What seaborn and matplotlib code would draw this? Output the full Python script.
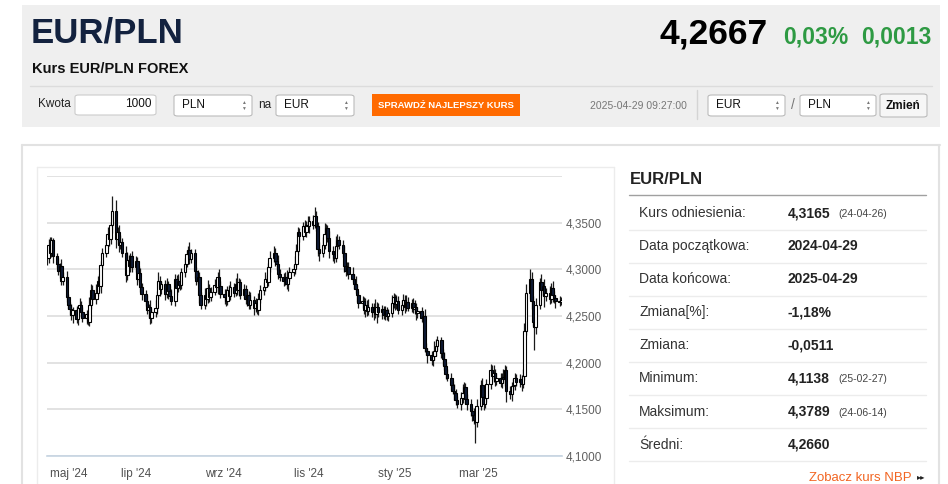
import numpy as np
import pandas as pd
import matplotlib
matplotlib.use("Agg")
import matplotlib.pyplot as plt
import matplotlib.dates as mdates
from matplotlib.patches import Rectangle, FancyBboxPatch
import seaborn as sns

# ---- data (daily EUR/PLN closes, one row per week) ----
ref_close = 4.3165
closes = [
    4.312, 4.326, 4.318, 4.331, 4.314,  4.306, 4.298, 4.304, 4.288, 4.292,
    4.270, 4.262, 4.258, 4.251, 4.256,  4.247, 4.259, 4.262, 4.254, 4.248,
    4.252, 4.244, 4.262, 4.278, 4.268,  4.275, 4.288, 4.282, 4.305, 4.318,
    4.326, 4.338, 4.332, 4.347, 4.362,  4.332, 4.340, 4.326, 4.329, 4.318,
    4.294, 4.310, 4.304, 4.314, 4.302,  4.309, 4.290, 4.296, 4.281, 4.274,
    4.266, 4.256, 4.260, 4.248, 4.254,  4.259, 4.272, 4.288, 4.279, 4.284,
    4.274, 4.284, 4.277, 4.271, 4.266,  4.290, 4.280, 4.288, 4.283, 4.297,
    4.306, 4.316, 4.321, 4.311, 4.317,  4.298, 4.288, 4.292, 4.272, 4.262,
    4.272, 4.268, 4.280, 4.270, 4.276,  4.283, 4.281, 4.292, 4.282, 4.274,
    4.270, 4.266, 4.278, 4.271, 4.281,  4.275, 4.284, 4.278, 4.286, 4.273,
    4.279, 4.268, 4.272, 4.262, 4.267,  4.259, 4.264, 4.256, 4.268, 4.278,
    4.281, 4.290, 4.286, 4.302, 4.312,  4.318, 4.309, 4.306, 4.295, 4.292,
    4.287, 4.292, 4.284, 4.291, 4.297,  4.300, 4.306, 4.320, 4.340, 4.336,
    4.346, 4.340, 4.348, 4.346, 4.352,  4.348, 4.357, 4.346, 4.322, 4.318,
    4.326, 4.338, 4.344, 4.334, 4.320,  4.316, 4.312, 4.325, 4.331, 4.326,
    4.318, 4.304, 4.298, 4.303, 4.295,  4.290, 4.284, 4.279, 4.272, 4.264,
    4.266, 4.256, 4.262, 4.255, 4.260,  4.254, 4.259, 4.252, 4.260, 4.254,
    4.257, 4.251, 4.256, 4.250, 4.253,  4.264, 4.270, 4.263, 4.266, 4.256,
    4.262, 4.267, 4.260, 4.265, 4.259,  4.264, 4.257, 4.260, 4.253, 4.255,
    4.248, 4.250, 4.216, 4.212, 4.208,  4.203, 4.207, 4.212, 4.218, 4.224,
    4.210, 4.204, 4.196, 4.188, 4.184,  4.176, 4.170, 4.167, 4.160, 4.156,
    4.162, 4.168, 4.174, 4.161, 4.156,  4.148, 4.144, 4.139, 4.136, 4.154,
    4.176, 4.163, 4.156, 4.162, 4.177,  4.192, 4.186, 4.189, 4.180, 4.184,
    4.178, 4.185, 4.182, 4.192, 4.170,  4.166, 4.175, 4.176, 4.184, 4.179,
    4.183, 4.177, 4.186, 4.234, 4.275,  4.290, 4.266, 4.244, 4.238, 4.262,
    4.286, 4.278, 4.282, 4.271, 4.275,  4.268, 4.280, 4.272, 4.269, 4.266,
    4.2654, 4.2667,
]
# upper / lower shadow length beyond the body, in 0.001 PLN
wick_up = [
    5, 7, 9, 4, 3,  4, 6, 3, 7, 5,  6, 4, 3, 5, 4,  5, 3, 7, 4, 6,
    4, 5, 8, 6, 5,  9, 5, 7, 4, 5,  5, 7, 5, 4, 17, 12, 5, 7, 8, 5,
    7, 9, 5, 4, 6,  5, 4, 8, 5, 4,  4, 6, 3, 7, 5,  8, 5, 9, 5, 4,
    5, 7, 4, 5, 8,  5, 4, 7, 5, 4,  6, 5, 4, 8, 5,  5, 4, 7, 5, 4,
    8, 5, 9, 4, 5,  7, 4, 5, 8, 5,  5, 9, 4, 5, 7,  4, 7, 12, 5, 4,
    5, 4, 7, 5, 9,  4, 5, 4, 7, 5,  5, 7, 4, 5, 8,  7, 5, 4, 9, 5,
    4, 5, 7, 4, 5,  5, 8, 7, 5, 4,  5, 7, 4, 9, 5,  6, 10, 5, 5, 7,
    9, 12, 5, 4, 7, 5, 4, 11, 7, 5, 5, 7, 4, 5, 5,  8, 5, 9, 4, 5,
    5, 4, 7, 5, 8,  4, 5, 9, 5, 4,  5, 4, 5, 4, 5,  8, 5, 4, 7, 5,
    5, 7, 5, 8, 5,  4, 5, 7, 4, 5,  5, 4, 7, 5, 4,  5, 4, 11, 7, 5,
    4, 5, 7, 4, 5,  5, 4, 7, 5, 4,  7, 9, 5, 4, 5,  5, 4, 7, 5, 7,
    5, 8, 4, 9, 5,  7, 5, 9, 4, 5,  5, 4, 8, 5, 4,  5, 4, 7, 5, 4,
    5, 4, 7, 8, 9,  10, 7, 5, 8, 7, 5, 9, 4, 8, 5,  7, 5, 8, 5, 4,
    5, 4,
]
wick_down = [
    7, 5, 4, 5, 7,  5, 4, 7, 5, 5,  5, 4, 7, 5, 8,  4, 7, 5, 5, 4,
    7, 4, 5, 4, 5,  5, 4, 5, 7, 4,  5, 4, 7, 5, 8,  9, 5, 7, 4, 5,
    8, 5, 4, 7, 5,  5, 7, 4, 5, 7,  5, 4, 8, 7, 5,  5, 7, 4, 8, 5,
    7, 5, 9, 5, 4,  5, 7, 4, 5, 4,  5, 4, 7, 5, 4,  7, 5, 4, 8, 5,
    5, 7, 4, 5, 4,  4, 5, 7, 5, 5,  7, 5, 4, 5, 4,  5, 4, 5, 7, 5,
    4, 5, 7, 5, 4,  8, 5, 4, 5, 4,  5, 4, 5, 4, 5,  4, 5, 7, 5, 4,
    5, 4, 5, 7, 4,  4, 5, 4, 5, 7,  5, 4, 5, 4, 7,  5, 4, 5, 8, 9,
    5, 4, 7, 5, 8,  7, 5, 4, 5, 4,  5, 7, 5, 4, 5,  4, 5, 4, 7, 5,
    5, 4, 7, 5, 4,  5, 8, 4, 9, 5,  7, 4, 5, 4, 5,  4, 5, 7, 5, 4,
    5, 4, 7, 5, 4,  5, 4, 5, 7, 5,  4, 5, 5, 4, 8,  5, 7, 4, 5, 4,
    5, 7, 4, 5, 4,  5, 4, 7, 5, 5,  7, 5, 4, 5, 7,  5, 7, 5, 22, 5,
    5, 4, 7, 5, 4,  5, 4, 7, 5, 4,  4, 5, 4, 7, 12, 5, 7, 4, 5, 4,
    5, 7, 4, 5, 4,  7, 8, 5, 24, 7, 4, 5, 7, 11, 5, 5, 4, 7, 5, 7,
    5, 4,
]

month_ticks = ["2024-05-01", "2024-07-01", "2024-09-01", "2024-11-01", "2025-01-01", "2025-03-01"]
month_labels = ["maj '24", "lip '24", "wrz '24", "lis '24", "sty '25", "mar '25"]
price_ticks = [4.10, 4.15, 4.20, 4.25, 4.30, 4.35, 4.40]

stat_labels = ["Kurs odniesienia:", "Data początkowa:", "Data końcowa:", "Zmiana[%]:",
               "Zmiana:", "Minimum:", "Maksimum:", "Średni:"]
stat_values = ["4,3165", "2024-04-29", "2025-04-29", "-1,18%", "-0,0511", "4,1138", "4,3789", "4,2660"]
stat_dates = ["(24-04-26)", "", "", "", "", "(25-02-27)", "(24-06-14)", ""]

# ---- build OHLC table ----
days = pd.bdate_range("2024-04-29", "2025-04-29")
n = min(len(days), len(closes))
df = pd.DataFrame({"date": days[:n], "close": closes[:n]})
df["open"] = [ref_close] + list(df["close"][:-1])
df["high"] = df[["open", "close"]].max(axis=1) + np.array(wick_up[:n]) / 1000
df["low"] = df[["open", "close"]].min(axis=1) - np.array(wick_down[:n]) / 1000
df["x"] = mdates.date2num(df["date"])

sns.set_style("white")
plt.rcParams["font.family"] = ["Liberation Sans", "DejaVu Sans"]

W, H = 948, 484
fig = plt.figure(figsize=(W / 100, H / 100), dpi=100)
fig.patch.set_facecolor("white")


def fx(x):
    return x / W


def fy(y):
    return 1 - y / H


def box(x0, y0, x1, y1, fc, ec="none", lw=1.0, rounded=False, z=0):
    if rounded:
        p = FancyBboxPatch((fx(x0), fy(y1)), fx(x1 - x0), (y1 - y0) / H,
                           boxstyle="round,pad=0,rounding_size=0.004",
                           transform=fig.transFigure, fc=fc, ec=ec, lw=lw, zorder=z)
    else:
        p = Rectangle((fx(x0), fy(y1)), fx(x1 - x0), (y1 - y0) / H,
                      transform=fig.transFigure, fc=fc, ec=ec, lw=lw, zorder=z)
    fig.patches.append(p)


def hline(x0, x1, y, color, lw=1.0):
    fig.add_artist(plt.Line2D([fx(x0), fx(x1)], [fy(y), fy(y)], color=color, lw=lw))


def vline(x, y0, y1, color, lw=1.0):
    fig.add_artist(plt.Line2D([fx(x), fx(x)], [fy(y0), fy(y1)], color=color, lw=lw))


def txt(x, y, s, **kw):
    kw.setdefault("va", "center")
    fig.text(fx(x), fy(y), s, **kw)


# ---- header ----
box(22, 5, 940, 127, "#efefef")
hline(30, 932, 86, "#dcdcdc")
txt(31, 33, "EUR/PLN", fontsize=25, fontweight="bold", color="#13223f")
txt(32, 69, "Kurs EUR/PLN FOREX", fontsize=10.5, fontweight="bold", color="#111111")
txt(768, 34, "4,2667", fontsize=25.5, fontweight="bold", color="#000000", ha="right")
txt(848, 37, "0,03%", fontsize=16.5, fontweight="bold", color="#2e9a43", ha="right")
txt(932, 37, "0,0013", fontsize=16.5, fontweight="bold", color="#2e9a43", ha="right")

txt(38, 104, "Kwota", fontsize=8.5, color="#222222")
box(75, 95, 156, 115, "white", "#cccccc", 0.8, rounded=True)
txt(152, 104, "1000", fontsize=8.5, color="#111111", ha="right")
for x0, x1, label in [(174, 252, "PLN"), (276, 354, "EUR"), (708, 785, "EUR"), (800, 876, "PLN")]:
    box(x0, 95, x1, 116, "white", "#bbbbbb", 0.8, rounded=True)
    txt(x0 + 8, 105, label, fontsize=8.5, color="#111111")
    txt(x1 - 9, 102, "▲", fontsize=3.5, color="#777777", ha="center")
    txt(x1 - 9, 108, "▼", fontsize=3.5, color="#777777", ha="center")
txt(258, 105, "na", fontsize=8.5, color="#222222")
box(372, 94, 520, 116, "#ff6a00")
txt(446, 105, "SPRAWDŹ NAJLEPSZY KURS", fontsize=6.8, fontweight="bold", color="white", ha="center")
txt(687, 106, "2025-04-29 09:27:00", fontsize=7.5, color="#777777", ha="right")
vline(697, 90, 119, "#d4d4d4")
txt(793, 105, "/", fontsize=10, color="#777777", ha="center")
box(880, 94, 927, 117, "#f6f6f6", "#bbbbbb", 0.8, rounded=True)
txt(903, 106, "Zmień", fontsize=8.5, fontweight="bold", color="#111111", ha="center")

# ---- lower panel frames ----
hline(22, 940, 145, "#e2e2e2", 1.5)
vline(939, 145, 484, "#e2e2e2", 1.5)
vline(22, 145, 484, "#e2e2e2", 1.5)
hline(37, 614, 167, "#ececec")
vline(614, 167, 484, "#ececec")
vline(37, 167, 484, "#ececec")

# ---- candlestick chart ----
ax = fig.add_axes([fx(47), fy(456), fx(562 - 47), (456 - 176) / H])
up = df["close"] >= df["open"]
ax.vlines(df["x"], df["low"], df["high"], color="#1a1a1a", lw=0.9, zorder=2)
body_lo = df[["open", "close"]].min(axis=1)
body_h = (df["close"] - df["open"]).abs().clip(lower=0.0008)
ax.bar(df["x"], body_h, bottom=body_lo, width=1.8,
       color=np.where(up, "white", "#0e1a33"), edgecolor="#000000", lw=0.8, zorder=3)

x_left = mdates.date2num(pd.Timestamp("2024-04-28")) + 0.87
ax.set_xlim(x_left, x_left + 515 / 1.408)
ax.set_ylim(4.10, 4.40)
ax.set_yticks(price_ticks)
ax.set_yticklabels([f"{v:.4f}".replace(".", ",") if v < 4.39 else "" for v in price_ticks])
ax.yaxis.tick_right()
ax.grid(axis="y", color="#dddddd", lw=1.2, zorder=0)
ax.tick_params(axis="y", length=0, pad=3, labelsize=8.5, labelcolor="#606060")
ax.set_xticks(mdates.date2num(pd.to_datetime(month_ticks)))
ax.set_xticklabels(month_labels)
ax.tick_params(axis="x", length=7, width=1, color="#c6d4e2", pad=1.5, labelsize=8.5, labelcolor="#505050")
ax.get_xticklabels()[0].set_ha("left")
for side in ["top", "left", "right"]:
    ax.spines[side].set_visible(False)
ax.spines["bottom"].set_color("#c6d4e2")
ax.spines["bottom"].set_linewidth(1.2)
ax.set_facecolor("none")

# ---- statistics panel ----
txt(630, 180, "EUR/PLN", fontsize=12, fontweight="bold", color="#222222")
hline(629, 926, 195, "#a0a0a0")
for i, (lab, val, dt) in enumerate(zip(stat_labels, stat_values, stat_dates)):
    yc = 213 + i * 33.1
    txt(639, yc, lab, fontsize=10, color="#333333")
    txt(788, yc, val, fontsize=10, fontweight="bold", color="#222222")
    if dt:
        txt(838, yc + 1, dt, fontsize=7.5, color="#444444")
    hline(629, 926, yc + 16.5, "#ececec")
txt(912, 478, "Zobacz kurs NBP", fontsize=9.5, color="#f26522", ha="right")
txt(925, 478, "▸▸", fontsize=6, color="#222222", ha="right")

fig.savefig("out.png", dpi=100)
